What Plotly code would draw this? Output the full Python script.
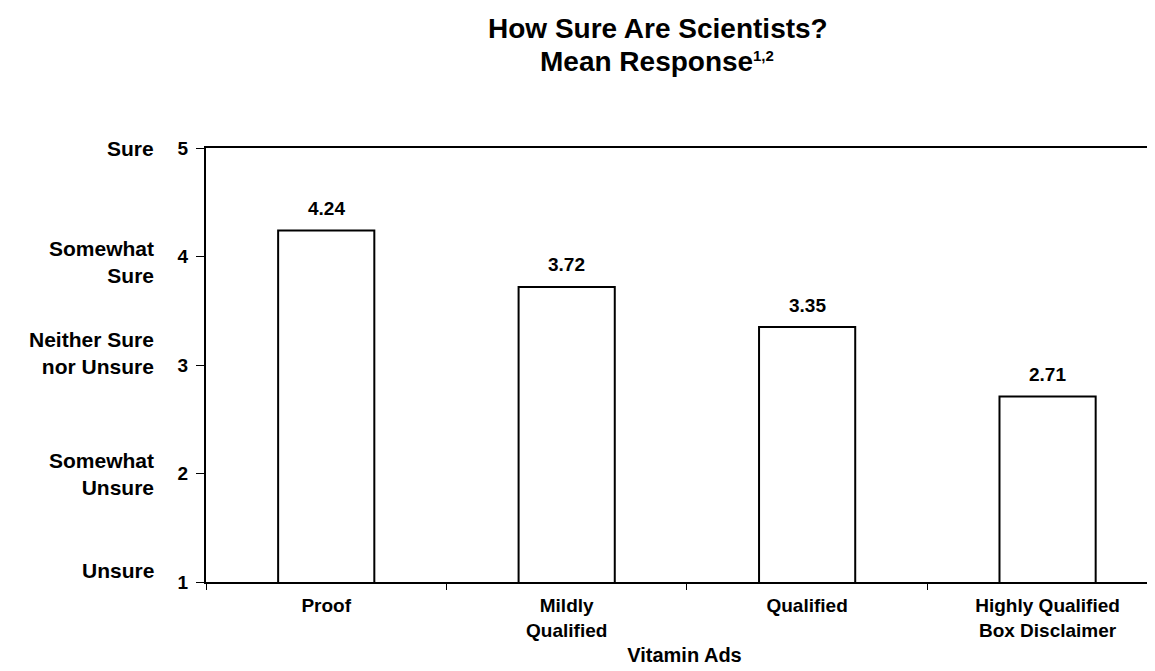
import plotly.graph_objects as go

categories = ["Proof", "Mildly<br>Qualified", "Qualified", "Highly Qualified<br>Box Disclaimer"]
mean_response = [4.24, 3.72, 3.35, 2.71]
scale_values = [1, 2, 3, 4, 5]
scale_labels = ["Unsure", "Somewhat<br>Unsure", "Neither Sure<br>nor Unsure", "Somewhat<br>Sure", "Sure"]
label_yshift = [12, 0, 12, -5, 0]
title_line1 = "How Sure Are Scientists?"
title_line2 = "Mean Response"
title_note = "1,2"

FONT = "Liberation Sans, Arial, Helvetica, sans-serif"
PLOT_LEFT, PLOT_W, PLOT_TOP = 198, 957, 140


def px_x(px):
    return (px - PLOT_LEFT) / PLOT_W


fig = go.Figure()
fig.add_trace(go.Bar(
    x=categories, y=mean_response, base=0,
    width=0.4,
    marker=dict(color="white", line=dict(color="black", width=2)),
    hoverinfo="x+y",
))

annotations = []
for c, v in zip(categories, mean_response):
    annotations.append(dict(x=c, y=v, xref="x", yref="y", text=f"{v:.2f}",
                            showarrow=False, yshift=22,
                            font=dict(family=FONT, size=19, color="black", weight="bold")))
for v, lab, ys in zip(scale_values, scale_labels, label_yshift):
    annotations.append(dict(x=0, y=v, xref="paper", yref="y", text=lab,
                            showarrow=False, xanchor="right", align="right", xshift=-50, yshift=ys,
                            font=dict(family=FONT, size=21, color="black", weight="bold")))
# title, drawn as separate text pieces for tight line spacing
annotations.append(dict(x=px_x(650), y=1, xref="paper", yref="paper", text=title_line1,
                        showarrow=False, xanchor="center", yanchor="middle", yshift=PLOT_TOP - 20,
                        borderpad=0,
                        font=dict(family=FONT, size=28, color="black", weight="bold")))
annotations.append(dict(x=px_x(746), y=1, xref="paper", yref="paper", text=title_line2,
                        showarrow=False, xanchor="right", yanchor="middle", yshift=PLOT_TOP - 53,
                        borderpad=0,
                        font=dict(family=FONT, size=28, color="black", weight="bold")))
annotations.append(dict(x=px_x(744), y=1, xref="paper", yref="paper", text=title_note,
                        showarrow=False, xanchor="left", yanchor="middle", yshift=PLOT_TOP - 47,
                        borderpad=0,
                        font=dict(family=FONT, size=15, color="black", weight="bold")))

fig.update_layout(
    width=1155, height=671,
    margin=dict(l=198, r=0, t=140, b=97),
    paper_bgcolor="white", plot_bgcolor="white",
    showlegend=False,
    annotations=annotations,
)
fig.update_xaxes(
    type="category", range=[-0.5, 3.48],
    showline=True, linecolor="black", linewidth=2, mirror=True,
    ticks="outside", tickson="boundaries", ticklen=6, tickcolor="black", tickwidth=1,
    tickfont=dict(family=FONT, size=19, color="black", weight="bold"),
    ticklabelstandoff=5,
    showgrid=False,
    title=dict(text="Vitamin Ads", font=dict(family=FONT, size=20, color="black", weight="bold"),
               standoff=8),
)
fig.update_yaxes(
    range=[1, 5], tickvals=scale_values,
    showline=True, linecolor="black", linewidth=2,
    ticks="outside", ticklen=8, tickcolor="black", tickwidth=1,
    tickfont=dict(family=FONT, size=19, color="black", weight="bold"),
    ticklabelstandoff=4,
    showgrid=False, zeroline=False,
)

fig.write_html("out.html")
